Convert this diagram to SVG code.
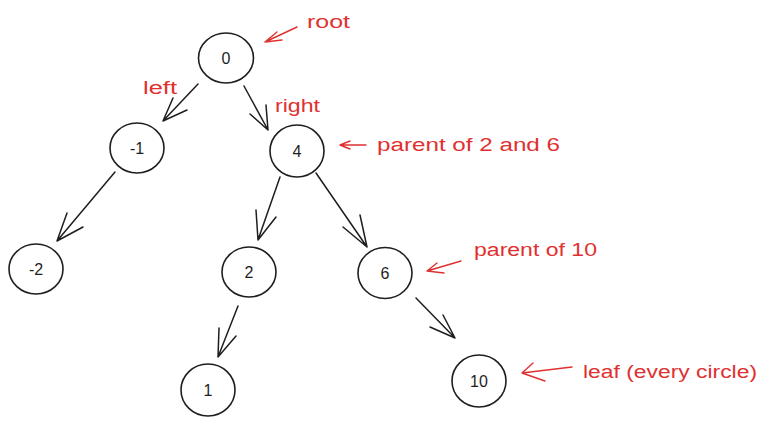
<svg xmlns="http://www.w3.org/2000/svg" width="767" height="425" viewBox="0 0 767 425">
<style>
.n{fill:none;stroke:#1e1e1e;stroke-width:1.6}
.lbl{font-family:"Liberation Sans",Arial,sans-serif;font-size:16px;fill:#1e1e1e;text-anchor:middle}
.c{fill:none;stroke:#1e1e1e;stroke-width:1.5;stroke-linecap:round;stroke-linejoin:round}
.r{fill:none;stroke:#e03131;stroke-width:1.4;stroke-linecap:round;stroke-linejoin:round}
.t{font-family:"Liberation Sans",Arial,sans-serif;font-size:18px;fill:#e03131}
</style>
<rect width="767" height="425" fill="#ffffff"/>
<g id="connectors">
<path class="c" d="M198 84 L163 121 M173 98 L163 121 L187 110"/>
<path class="c" d="M244 86 L268 130 M250 114 L268 130 L266 105"/>
<path class="c" d="M115 172 L57 241 M67 213 L57 241 L83 227"/>
<path class="c" d="M280 177 L258 240 M256 210 L258 240 L276 217"/>
<path class="c" d="M316 173 L367 247 M343 227 L367 247 L360 215"/>
<path class="c" d="M238 306 L218 357 M219 328 L218 357 L236 336"/>
<path class="c" d="M416 298 L455 338 M430 327 L455 338 L443 315"/>
</g>
<g id="annotation-arrows">
<path class="r" d="M297 27 L265 42 M277 32 L265 42 L282 40"/>
<path class="r" d="M366 145 L340 145 L350 141 M340 145 L350 149"/>
<path class="r" d="M461 261 L427 271 L437 263 M427 271 L444 273"/>
<path class="r" d="M572 367 L522 373 L533 363 M522 373 L545 381"/>
</g>
<g id="node-0"><ellipse class="n" cx="226" cy="58" rx="27.5" ry="25"/><text class="lbl" x="226" y="64">0</text></g>
<g id="node-m1"><ellipse class="n" cx="137" cy="148" rx="27" ry="25"/><text class="lbl" x="137" y="154">-1</text></g>
<g id="node-4"><ellipse class="n" cx="297" cy="151" rx="27" ry="26"/><text class="lbl" x="297" y="157">4</text></g>
<g id="node-m2"><ellipse class="n" cx="36" cy="269" rx="27" ry="25"/><text class="lbl" x="36" y="275">-2</text></g>
<g id="node-2"><ellipse class="n" cx="249" cy="272" rx="27" ry="25"/><text class="lbl" x="249" y="278">2</text></g>
<g id="node-6"><ellipse class="n" cx="385" cy="273" rx="27" ry="25.5"/><text class="lbl" x="385" y="279">6</text></g>
<g id="node-1"><ellipse class="n" cx="208" cy="390" rx="27" ry="26"/><text class="lbl" x="208" y="396">1</text></g>
<g id="node-10"><ellipse class="n" cx="479" cy="381" rx="27" ry="26"/><text class="lbl" x="479" y="387">10</text></g>
<g id="labels">
<text class="t" x="307" y="28" textLength="43" lengthAdjust="spacingAndGlyphs">root</text>
<text class="t" x="143" y="94" textLength="34" lengthAdjust="spacingAndGlyphs">left</text>
<text class="t" x="275" y="112" textLength="45" lengthAdjust="spacingAndGlyphs">right</text>
<text class="t" x="377" y="151" textLength="183" lengthAdjust="spacingAndGlyphs">parent of 2 and 6</text>
<text class="t" x="474" y="256" textLength="123" lengthAdjust="spacingAndGlyphs">parent of 10</text>
<text class="t" x="583" y="378" textLength="174" lengthAdjust="spacingAndGlyphs">leaf (every circle)</text>
</g>
</svg>
